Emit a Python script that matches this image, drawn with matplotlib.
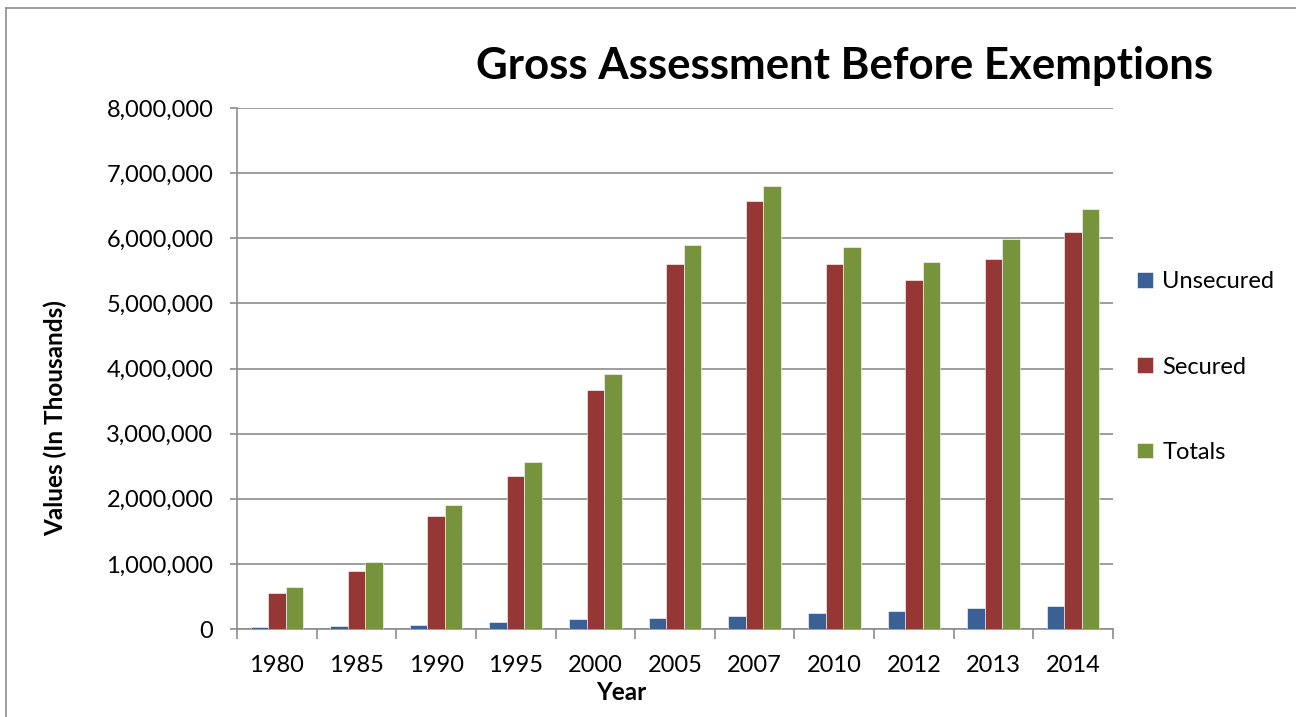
import matplotlib
matplotlib.use("Agg")
import matplotlib.pyplot as plt
from matplotlib.lines import Line2D
from matplotlib.ticker import FuncFormatter, FixedLocator
import numpy as np

plt.rcParams['font.family'] = ['Lato', 'DejaVu Sans']

years = ["1980", "1985", "1990", "1995", "2000", "2005", "2007", "2010", "2012", "2013", "2014"]
unsecured = [30000, 50000, 55000, 100000, 150000, 175000, 200000, 250000, 270000, 323000, 348000]
secured = [550000, 890000, 1740000, 2350000, 3665000, 5600000, 6574000, 5600000, 5356000, 5676000, 6100000]
totals = [640000, 1035000, 1910000, 2570000, 3910000, 5890000, 6800000, 5870000, 5640000, 5990000, 6450000]
series_names = ["Unsecured", "Secured", "Totals"]
colors = ["#3A6095", "#953735", "#77933C"]

W, H = 1296, 717
fig = plt.figure(figsize=(W / 100, H / 100), dpi=100)
ax = fig.add_axes([237 / W, 1 - 629 / H, (1113 - 237) / W, (629 - 108) / H])

x = np.arange(len(years))
bw = 0.22
handles = []
for i, (vals, c, name) in enumerate(zip([unsecured, secured, totals], colors, series_names)):
    h = ax.bar(x + (i - 1) * bw, vals, width=bw, color=c, edgecolor="white", linewidth=0.4,
               label=name, zorder=3)
    handles.append(h)

ax.set_xlim(-0.5, len(years) - 0.5)
ax.set_ylim(0, 8000000)
ax.set_yticks(np.arange(0, 8000001, 1000000))
ax.yaxis.set_major_formatter(FuncFormatter(lambda v, p: f"{int(v):,}"))
ax.grid(axis="y", color="#8C8C8C", linewidth=1.2, zorder=0)

ax.set_xticks(x)
ax.set_xticklabels(years)
ax.xaxis.set_minor_locator(FixedLocator(np.arange(-0.5, len(years), 1.0)))
ax.tick_params(axis="x", which="major", length=0, pad=19, labelsize=17)
ax.tick_params(axis="x", which="minor", length=7, width=1.2, color="#8C8C8C", direction="out")
ax.tick_params(axis="y", which="major", length=5, width=1.2, color="#8C8C8C", pad=12, labelsize=17)

for s in ["top", "right"]:
    ax.spines[s].set_visible(False)
for s in ["left", "bottom"]:
    ax.spines[s].set_color("#8C8C8C")
    ax.spines[s].set_linewidth(1.2)

fig.text(845 / W, 1 - 66 / H, "Gross Assessment Before Exemptions", ha="center", va="center",
         fontsize=31.5, fontweight="bold")
fig.text(55 / W, 1 - 418 / H, "Values (In Thousands)", rotation=90, ha="center", va="center",
         fontsize=17.5, fontweight="bold")
fig.text(621 / W, 1 - 693 / H, "Year", ha="center", va="center", fontsize=17.5, fontweight="bold")

leg = fig.legend(handles=handles, labels=series_names, loc="upper left",
                 bbox_to_anchor=(1128 / W, 1 - 262 / H), frameon=False, fontsize=17,
                 handlelength=0.65, handleheight=0.65, handletextpad=0.4, labelspacing=2.72,
                 borderaxespad=0)

fig.add_artist(Line2D([5.5 / W, 5.5 / W], [0, 1 - 7.5 / H], transform=fig.transFigure,
                      color="#8C8C8C", linewidth=1.2))
fig.add_artist(Line2D([5.5 / W, 1], [1 - 7.5 / H, 1 - 7.5 / H], transform=fig.transFigure,
                      color="#8C8C8C", linewidth=1.2))

fig.savefig("out.png", dpi=100, facecolor="white")
